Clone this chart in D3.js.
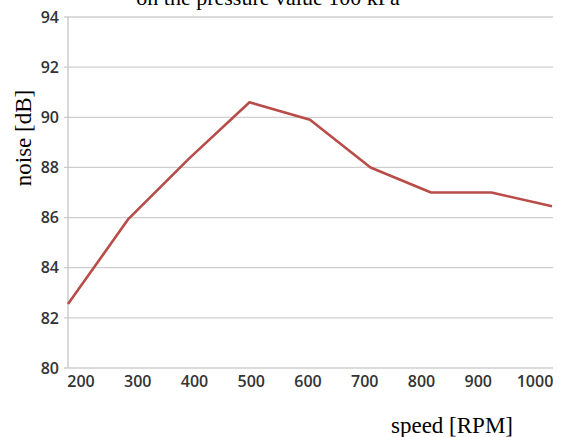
<!DOCTYPE html>
<html><head><meta charset="utf-8">
<script src="https://cdn.jsdelivr.net/npm/d3@7"></script>
<style>body{margin:0;background:#fff}svg{display:block}</style>
</head><body>
<script>
const speeds = [200, 300, 400, 500, 600, 700, 800, 900, 1000];
const noise = [82.55, 85.95, 88.35, 90.6, 89.9, 88.0, 87.0, 87.0, 86.45];
const yTicks = [80, 82, 84, 86, 88, 90, 92, 94];
const xTicks = [200, 300, 400, 500, 600, 700, 800, 900, 1000];
const title = "on the pressure value 100 kPa";
const xTitle = "speed [RPM]";
const yTitle = "noise [dB]";

const W = 571, H = 437;
const svg = d3.select("body").append("svg").attr("width", W).attr("height", H);

const x = d3.scaleLinear().domain([200, 1000]).range([68, 552]);
const xLab = d3.scaleLinear().domain([200, 1000]).range([81, 535]);
const y = d3.scaleLinear().domain([80, 94]).range([368, 17]);

// gridlines
svg.append("g").selectAll("line").data(yTicks).join("line")
  .attr("x1", 64).attr("x2", 553)
  .attr("y1", d => y(d)).attr("y2", d => y(d))
  .attr("stroke", "#cfcfcf").attr("stroke-width", 1.3);

// y axis line
svg.append("line").attr("x1", 68).attr("x2", 68).attr("y1", y(94)).attr("y2", y(80))
  .attr("stroke", "#c4c4c4").attr("stroke-width", 1.3);

// y tick labels
svg.append("g").selectAll("text").data(yTicks).join("text")
  .attr("x", 59).attr("y", d => y(d)).attr("dy", "0.36em")
  .attr("text-anchor", "end")
  .attr("font-family", "'Open Sans', sans-serif").attr("font-weight", 600)
  .attr("font-size", 16).attr("fill", "#333")
  .text(d => d);

// x tick labels
svg.append("g").selectAll("text").data(xTicks).join("text")
  .attr("x", d => xLab(d)).attr("y", 387)
  .attr("text-anchor", "middle")
  .attr("font-family", "'Open Sans', sans-serif").attr("font-weight", 600)
  .attr("font-size", 16).attr("fill", "#333")
  .text(d => d);

// line
const line = d3.line().x((d, i) => x(speeds[i])).y(d => y(d));
svg.append("path").datum(noise).attr("d", line)
  .attr("fill", "none").attr("stroke", "#b84c48").attr("stroke-width", 2.6)
  .attr("stroke-linejoin", "round");

// titles
svg.append("text").attr("x", 268).attr("y", 5).attr("text-anchor", "middle")
  .attr("font-family", "'Liberation Serif', 'Times New Roman', serif").attr("font-size", 22)
  .attr("fill", "#000").text(title);

svg.append("text").attr("x", 452).attr("y", 433).attr("text-anchor", "middle")
  .attr("font-family", "'Liberation Serif', 'Times New Roman', serif").attr("font-size", 23)
  .attr("fill", "#000").text(xTitle);

svg.append("text").attr("transform", "translate(31,138) rotate(-90)").attr("text-anchor", "middle")
  .attr("font-family", "'Liberation Serif', 'Times New Roman', serif").attr("font-size", 23)
  .attr("fill", "#000").text(yTitle);
</script>
</body></html>
